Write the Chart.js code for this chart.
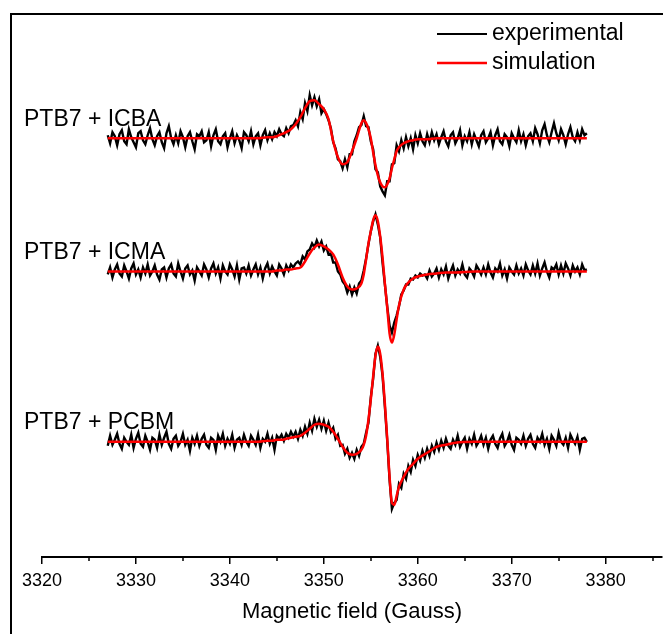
<!DOCTYPE html>
<html>
<head>
<meta charset="utf-8">
<script src="https://cdn.jsdelivr.net/npm/chart.js@4.4.1/dist/chart.umd.min.js"></script>
<style>
  html, body { margin: 0; padding: 0; background: #fff; }
  #wrap { width: 663px; height: 634px; }
</style>
</head>
<body>
<div id="wrap"><canvas id="eprChart" width="663" height="634"></canvas></div>
<script>
// Sample names, drawn as text above each spectrum.
const sampleNames = ['PTB7 + ICBA', 'PTB7 + ICMA', 'PTB7 + PCBM'];
// Vertical offset (a.u.) that stacks the three spectra.
const traceOffsets = [418, 285, 115];

// Axis ticks (Gauss).
const majorTicks = [3320, 3330, 3340, 3350, 3360, 3370, 3380];
const minorTicks = [3325, 3335, 3345, 3355, 3365, 3375, 3385];

// Field points of the measured spectra.
const expField = [
  3327, 3327.25, 3327.5, 3327.75, 3328, 3328.25, 3328.5, 3328.75, 3329, 3329.25, 3329.5, 3329.75, 3330, 3330.25, 3330.5, 3330.75, 3331, 3331.25, 3331.5, 3331.75,
  3332, 3332.25, 3332.5, 3332.75, 3333, 3333.25, 3333.5, 3333.75, 3334, 3334.25, 3334.5, 3334.75, 3335, 3335.25, 3335.5, 3335.75, 3336, 3336.25, 3336.5, 3336.75,
  3337, 3337.25, 3337.5, 3337.75, 3338, 3338.25, 3338.5, 3338.75, 3339, 3339.25, 3339.5, 3339.75, 3340, 3340.25, 3340.5, 3340.75, 3341, 3341.25, 3341.5, 3341.75,
  3342, 3342.25, 3342.5, 3342.75, 3343, 3343.25, 3343.5, 3343.75, 3344, 3344.25, 3344.5, 3344.75, 3345, 3345.25, 3345.5, 3345.75, 3346, 3346.25, 3346.5, 3346.75,
  3347, 3347.25, 3347.5, 3347.75, 3348, 3348.25, 3348.5, 3348.75, 3349, 3349.25, 3349.5, 3349.75, 3350, 3350.25, 3350.5, 3350.75, 3351, 3351.25, 3351.5, 3351.75,
  3352, 3352.25, 3352.5, 3352.75, 3353, 3353.25, 3353.5, 3353.75, 3354, 3354.25, 3354.5, 3354.75, 3355, 3355.25, 3355.5, 3355.75, 3356, 3356.25, 3356.5, 3356.75,
  3357, 3357.25, 3357.5, 3357.75, 3358, 3358.25, 3358.5, 3358.75, 3359, 3359.25, 3359.5, 3359.75, 3360, 3360.25, 3360.5, 3360.75, 3361, 3361.25, 3361.5, 3361.75,
  3362, 3362.25, 3362.5, 3362.75, 3363, 3363.25, 3363.5, 3363.75, 3364, 3364.25, 3364.5, 3364.75, 3365, 3365.25, 3365.5, 3365.75, 3366, 3366.25, 3366.5, 3366.75,
  3367, 3367.25, 3367.5, 3367.75, 3368, 3368.25, 3368.5, 3368.75, 3369, 3369.25, 3369.5, 3369.75, 3370, 3370.25, 3370.5, 3370.75, 3371, 3371.25, 3371.5, 3371.75,
  3372, 3372.25, 3372.5, 3372.75, 3373, 3373.25, 3373.5, 3373.75, 3374, 3374.25, 3374.5, 3374.75, 3375, 3375.25, 3375.5, 3375.75, 3376, 3376.25, 3376.5, 3376.75,
  3377, 3377.25, 3377.5, 3377.75, 3378
];

// Measured signal (a.u., relative to each baseline).
const expIcba = [
  3, -5, 6, 2, -7, 4, 8, -3, -6, 9, 1, -4, -9, 5, 7, -2, -6, 3, 10, -1,
  -7, 2, 6, -4, -10, 5, 12, 0, -6, 3, -5, 7, 1, -9, 2, 6, -3, -11, 4, 2,
  7, -4, -2, 6, -8, 3, 9, -3, -6, 2, 5, -9, 0, 7, -5, 3, -2, -10, 6, 3,
  -3, 7, -6, 2, 5, -7, 3, 8, -2, 5, -1, 6, 2, 9, 4, 2, 10, 5, 12, 13,
  18, 12, 26, 19, 35, 27, 43, 33, 41, 32, 39, 25, 29, 24, 18, 10, -4, -10, -21, -23,
  -30, -21, -29, -16, -16, -3, 3, 11, 13, 22, 12, 11, -3, -11, -31, -34, -48, -53, -57, -43,
  -43, -26, -25, -7, -13, -2, -10, 1, -8, 0, -11, 3, -5, 5, -3, -7, 4, -4, 6, -2,
  4, -6, 1, 7, -3, -8, 3, 6, -5, 0, 8, -7, 2, -3, 6, -6, 4, -2, -8, 3,
  7, -4, 0, 6, -7, 3, 9, -3, -6, 4, 1, -8, 5, 0, -4, 8, -3, 4, -7, 2,
  5, -3, 10, 4, -5, 8, 14, 3, -4, 6, 15, 5, -2, 9, 3, -6, 4, 11, 1, -3,
  6, -2, 9, 3, 5
];
const expIcma = [
  -3, 4, -6, 2, 7, -2, -5, 6, 0, -7, 3, 8, -3, 2, -6, 4, -2, 7, -4, 0,
  6, -3, -8, 2, 4, -6, 3, 7, -2, -5, 8, 0, -7, 3, 6, -3, 1, -9, 4, 0,
  -4, 7, 2, -6, 3, 8, -2, 4, -7, 6, 0, -3, 7, 2, -5, 6, -8, 3, 4, -2,
  6, -4, 2, 7, -3, 4, -7, 3, 8, -2, 5, 0, -4, 7, 3, -3, 6, 1, 7, 4,
  8, 10, 7, 15, 12, 20, 22, 28, 24, 31, 25, 30, 21, 25, 17, 18, 9, 9, 0, -3,
  -10, -13, -21, -15, -23, -16, -22, -12, -9, 1, 13, 27, 40, 50, 57, 47, 34, 9, -13, -35,
  -54, -61, -51, -44, -35, -23, -19, -13, -13, -7, -8, -4, -6, -2, -4, -3, -7, 1, -5, -2,
  3, -6, 2, -3, 5, -7, 0, 6, -4, 2, -2, 7, -3, -6, 3, 0, -5, 6, 2, -3,
  4, -3, 7, -1, -6, 3, 0, 8, -4, 2, -7, 4, 0, -3, 6, -2, 3, -4, 7, 1,
  -3, 6, -2, 8, -4, 3, 9, 0, -6, 4, 2, 7, -3, 6, -2, 8, 3, -4, 6, 0,
  4, -3, 7, 1, 2
];
const expPcbm = [
  -4, 6, -3, 2, 8, -2, -7, 4, 0, -3, 7, -6, 3, 9, -2, -5, 6, 0, -8, 4,
  2, -6, 7, -3, 4, 10, -2, -7, 3, 6, -4, 0, 8, -3, 2, -9, 4, -2, 6, -4,
  3, 7, -3, -6, 4, 2, -8, 6, 0, 8, -4, 3, -2, 7, -6, 2, 4, -3, 7, 0,
  -4, 6, 2, -3, 7, -6, 3, 0, 8, -2, 4, -8, 6, 3, 7, 1, 8, 4, 10, 5,
  10, 3, 12, 6, 15, 8, 19, 11, 23, 15, 22, 13, 21, 11, 19, 10, 14, 3, 7, -4,
  -3, -12, -7, -16, -11, -17, -8, -14, -5, -2, 9, 19, 44, 63, 88, 96, 85, 66, 35, 1,
  -38, -67, -61, -58, -42, -46, -32, -37, -24, -30, -18, -24, -13, -19, -9, -16, -7, -14, -4, -10,
  -1, -8, 1, -6, 3, -4, -7, 2, -3, 6, -5, 0, 4, -7, 3, -2, 7, -4, 0, 6,
  -3, 4, -7, 2, 6, -2, -6, 3, 8, -4, 0, 7, -3, -8, 4, 2, -2, 6, -4, 3,
  7, -2, -6, 4, 0, 8, -3, 3, -7, 6, 2, -4, 9, 0, -3, 4, -6, 7, 2, -2,
  5, -8, 3, 4, 0
];

// Field points of the simulated spectra (denser around the lines).
const simField = [
  3327, 3330, 3333, 3336, 3339, 3342, 3343, 3344,
  3344.5, 3345, 3345.5, 3346, 3346.5, 3347, 3347.5, 3348, 3348.5, 3349, 3349.5, 3350,
  3350.5, 3351, 3351.5, 3352, 3352.5, 3353, 3353.5, 3354,
  3354.25, 3354.5, 3354.75, 3355, 3355.25, 3355.5, 3355.75, 3356,
  3356.25, 3356.5, 3356.75, 3357, 3357.25, 3357.5, 3357.75, 3358,
  3358.5, 3359, 3359.5, 3360, 3361, 3362, 3363, 3364, 3366, 3369, 3372, 3375, 3378
];
const simIcba = [
  0, 0, 0, 0, 0, 0, 0, 1,
  1, 2, 4, 6, 9, 14, 21, 30, 37, 38, 34, 29,
  19, -3, -19, -26, -24, -13, 0, 15,
  18, 15, 9, 0, -14, -27, -37, -44,
  -48, -49, -46, -40, -30, -21, -13, -9,
  -5, -3, -2, -1, -1, 0, 0, 0, 0, 0, 0, 0, 0
];
const simIcma = [
  0, 0, 0, 0, 0, 0, 0, 0,
  0, 1, 1, 2, 2, 3, 4, 10, 18, 24, 27, 25,
  22, 17, 7, -6, -15, -18, -17, -12,
  -3, 12, 28, 40, 51, 56, 50, 35,
  14, -12, -36, -62, -71, -63, -48, -34,
  -18, -11, -7, -5, -3, -2, -1, -1, 0, 0, 0, 0, 0
];
const simPcbm = [
  0, 0, 0, 0, 0, 0, 0, 1,
  1, 2, 2, 3, 4, 5, 6, 9, 13, 17, 18, 17,
  15, 10, 3, -5, -11, -13, -12, -8,
  -3, 6, 22, 42, 65, 86, 95, 88,
  68, 38, 3, -35, -61, -63, -54, -45,
  -35, -27, -22, -17, -11, -5, -3, -1, 0, 0, 0, 0, 0
];

const expSeries = [expIcba, expIcma, expPcbm];
const simSeries = [simIcba, simIcma, simPcbm];

const FONT = "'Liberation Sans', Arial, Helvetica, sans-serif";

function toPoints(field, values, offset) {
  if (field.length !== values.length) console.error('length mismatch', field.length, values.length);
  return field.map((x, i) => ({ x: x, y: offset + values[i] }));
}

let datasets = [];
sampleNames.forEach((name, k) => {
  datasets.push({
    label: name + ' experimental',
    data: toPoints(expField, expSeries[k], traceOffsets[k]),
    borderColor: '#000000',
    borderWidth: 2.4,
    pointRadius: 0,
    tension: 0,
    order: 2
  });
  datasets.push({
    label: name + ' simulation',
    data: toPoints(simField, simSeries[k], traceOffsets[k]),
    borderColor: '#ff0000',
    borderWidth: 2.5,
    pointRadius: 0,
    cubicInterpolationMode: 'monotone',
    order: 1
  });
});

// Frame, minor ticks, sample names and legend.
const decorations = {
  id: 'decorations',
  beforeDraw(chart) {
    let ctx = chart.ctx;
    ctx.save();
    ctx.fillStyle = '#fff';
    ctx.fillRect(0, 0, chart.width, chart.height);
    ctx.strokeStyle = '#000';
    ctx.lineWidth = 2;
    ctx.beginPath();
    ctx.moveTo(11, chart.height);
    ctx.lineTo(11, 14);
    ctx.lineTo(chart.width, 14);
    ctx.stroke();
    ctx.restore();
  },
  afterDraw(chart) {
    let ctx = chart.ctx;
    let xs = chart.scales.x;
    let ys = chart.scales.y;
    ctx.save();

    // minor tick marks
    ctx.strokeStyle = '#000';
    ctx.lineWidth = 1.5;
    minorTicks.forEach(v => {
      let px = Math.round(xs.getPixelForValue(v));
      ctx.beginPath();
      ctx.moveTo(px, xs.top);
      ctx.lineTo(px, xs.top + 4);
      ctx.stroke();
    });

    // sample names above each baseline
    ctx.fillStyle = '#000';
    ctx.font = '23px ' + FONT;
    ctx.textAlign = 'left';
    ctx.textBaseline = 'middle';
    sampleNames.forEach((name, k) => {
      let py = ys.getPixelForValue(traceOffsets[k]);
      ctx.fillText(name, chart.chartArea.left - 18, py - 19);
    });

    // legend
    let legendItems = [['experimental', '#000000', 2], ['simulation', '#ff0000', 2.5]];
    legendItems.forEach((item, k) => {
      let py = 34 + k * 29;
      ctx.strokeStyle = item[1];
      ctx.lineWidth = item[2];
      ctx.beginPath();
      ctx.moveTo(437, py);
      ctx.lineTo(487, py);
      ctx.stroke();
      ctx.fillText(item[0], 492, py);
    });

    ctx.restore();
  }
};

const ctx = document.getElementById('eprChart').getContext('2d');
let chart = new Chart(ctx, {
  type: 'line',
  data: { datasets: datasets },
  options: {
    responsive: false,
    animation: false,
    events: [],
    layout: { padding: { left: 42, right: 1, top: 14, bottom: 0 } },
    plugins: {
      legend: { display: false },
      tooltip: { enabled: false }
    },
    scales: {
      x: {
        type: 'linear',
        min: 3320,
        max: 3386,
        afterBuildTicks: scale => {
          scale.ticks = majorTicks.map(v => ({ value: v }));
        },
        ticks: {
          color: '#000',
          padding: 6,
          maxRotation: 0,
          font: { family: FONT, size: 18 },
          callback: v => String(v)
        },
        grid: {
          drawOnChartArea: false,
          drawTicks: true,
          tickLength: 7,
          color: '#000',
          lineWidth: 1.5
        },
        border: { display: true, color: '#000', width: 2 },
        title: {
          display: true,
          text: 'Magnetic field (Gauss)',
          color: '#000',
          padding: { top: 1, bottom: 9 },
          font: { family: FONT, size: 22 }
        }
      },
      y: {
        display: false,
        min: 0,
        max: 542
      }
    }
  },
  plugins: [decorations]
});
</script>
</body>
</html>
